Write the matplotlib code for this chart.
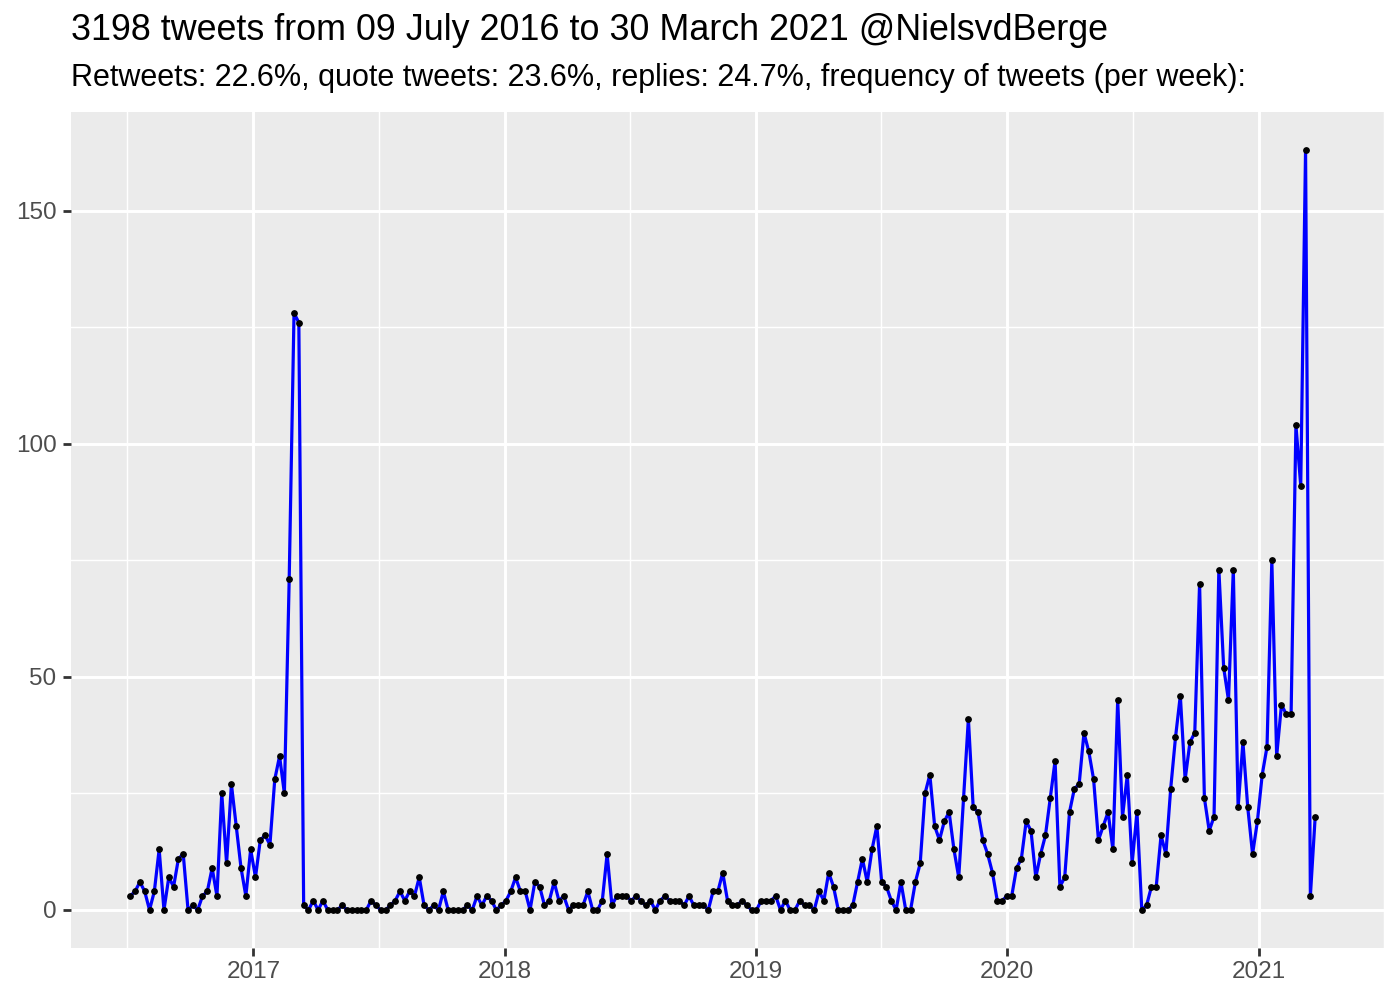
import matplotlib
matplotlib.use("Agg")
import matplotlib.pyplot as plt
import matplotlib.dates as mdates
import numpy as np
import pandas as pd

# weekly tweet counts
counts = [
    3, 4, 6, 4, 0, 4, 13, 0, 7, 5, 11, 12, 0, 1, 0, 3, 4, 9, 3, 25, 10, 27, 18, 9, 3,
    13, 7, 15, 16, 14, 28, 33, 25,
    71, 128, 126,
    1, 0, 2, 0, 2, 0, 0, 0, 1, 0, 0, 0, 0, 0, 2, 1, 0, 0, 1, 2, 4, 2, 4, 3, 7, 1, 0, 1, 0, 4, 0, 0,
    0, 0, 1, 0, 3, 1, 3, 2, 0, 1, 2, 4, 7, 4, 4, 0, 6, 5, 1, 2, 6, 2, 3, 0, 1, 1, 1, 4, 0, 0,
    2, 12, 1, 3, 3,
    3, 2, 3, 2, 1, 2, 0, 2, 3, 2, 2, 2, 1, 3, 1, 1, 1, 0, 4, 4, 8, 2, 1, 1, 2, 1, 0, 0, 2, 2,
    2, 3, 0, 2, 0,
    0, 2, 1, 1, 0, 4, 2, 8, 5, 0, 0, 0, 1, 6, 11, 6, 13, 18, 6, 5, 2, 0, 6, 0, 0, 6, 10, 25,
    29, 18, 15, 19, 21, 13, 7,
    24, 41, 22, 21, 15, 12, 8, 2, 2, 3, 3, 9, 11, 19, 17, 7, 12, 16, 24, 32, 5, 7, 21, 26, 27,
    38, 34, 28, 15, 18, 21, 13, 45, 20, 29,
    10, 21, 0, 1, 5, 5, 16, 12, 26, 37, 46, 28, 36, 38, 70, 24, 17, 20, 73, 52, 45, 73, 22,
    36, 22, 12,
    19, 29, 35, 75, 33, 44, 42, 42, 104, 91, 163, 3, 20,
]
first_week = "2016-07-06"
weeks = pd.date_range(first_week, periods=len(counts), freq="7D")

title = "3198 tweets from 09 July 2016 to 30 March 2021 @NielsvdBerge"
subtitle = "Retweets: 22.6%, quote tweets: 23.6%, replies: 24.7%, frequency of tweets (per week):"
y_ticks = [0, 50, 100, 150]
y_minor = [25, 75, 125]
x_years = [2017, 2018, 2019, 2020, 2021]

plt.rcParams["font.family"] = ["Liberation Sans", "DejaVu Sans"]

fig = plt.figure(figsize=(14, 10), dpi=100)
ax = fig.add_axes([71 / 1400, 52 / 1000, (1384 - 71) / 1400, (948 - 112) / 1000])
ax.set_facecolor("#EBEBEB")

ax.plot(weeks, counts, color="blue", lw=2.3, zorder=3)
ax.scatter(weeks, counts, s=15, color="black", zorder=4)

# ggplot-like expansion of 5 %
x0, x1 = mdates.date2num(weeks[0]), mdates.date2num(weeks[-1])
pad = (x1 - x0) * 0.05
ax.set_xlim(x0 - pad, x1 + pad)
ymax = max(counts)
ax.set_ylim(-ymax * 0.05, ymax * 1.05)

major_x = [mdates.date2num(pd.Timestamp(f"{y}-01-01")) for y in x_years]
minor_x = [mdates.date2num(pd.Timestamp(f"{y}-07-02")) for y in [2016] + x_years]
ax.set_xticks(major_x)
ax.set_xticklabels([str(y) for y in x_years])
ax.set_xticks(minor_x, minor=True)
ax.set_yticks(y_ticks)
ax.set_yticks(y_minor, minor=True)

ax.grid(which="major", color="white", lw=2.1)
ax.grid(which="minor", color="white", lw=1.05)
ax.set_axisbelow(True)
for s in ax.spines.values():
    s.set_visible(False)
ax.tick_params(which="major", length=5.5, width=2, color="#333333",
               labelsize=17.5, labelcolor="#4D4D4D")
ax.tick_params(axis="y", pad=5)
ax.tick_params(axis="x", pad=4)
ax.tick_params(which="minor", length=0)

fig.text(71 / 1400, 1 - 31 / 1000, title, fontsize=25.8, va="center", ha="left")
fig.text(71 / 1400, 1 - 78 / 1000, subtitle, fontsize=22, va="center", ha="left")

fig.savefig("out.png", dpi=100)
